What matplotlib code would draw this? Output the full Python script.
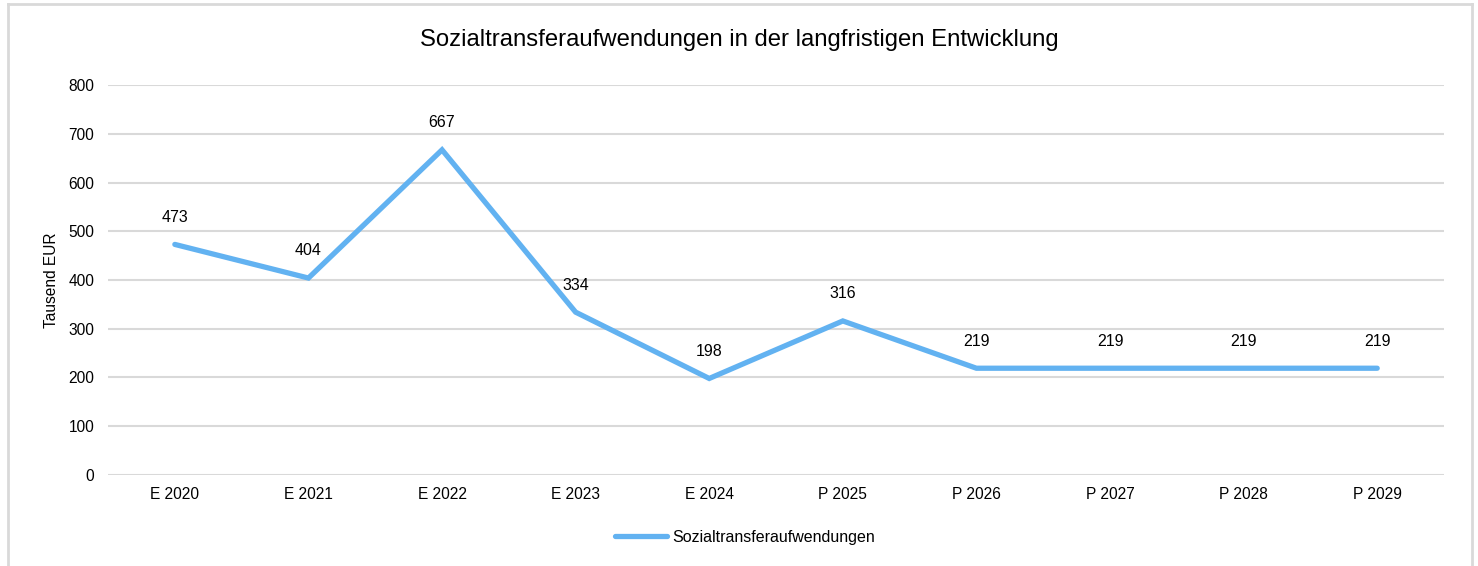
import matplotlib
matplotlib.use('Agg')
import matplotlib.pyplot as plt
from matplotlib.lines import Line2D

plt.rcParams['font.family'] = ['Liberation Sans', 'DejaVu Sans']

categories = ['E 2020', 'E 2021', 'E 2022', 'E 2023', 'E 2024',
              'P 2025', 'P 2026', 'P 2027', 'P 2028', 'P 2029']
values = [473, 404, 667, 334, 198, 316, 219, 219, 219, 219]
y_ticks = [0, 100, 200, 300, 400, 500, 600, 700, 800]

line_color = '#62B2F1'
grid_color = '#D9D9D9'

fig = plt.figure(figsize=(14.78, 5.66), dpi=100)
ax = fig.add_axes([0.0731, 0.1608, 0.9039, 0.689])

x = range(len(categories))
ax.plot(x, values, color=line_color, linewidth=3.8, solid_capstyle='round',
        solid_joinstyle='miter', label='Sozialtransferaufwendungen', zorder=3)

for i, v in zip(x, values):
    ax.annotate(str(v), (i, v), xytext=(0, 19.5), textcoords='offset points',
                ha='center', va='center', fontsize=11.5, color='#000000')

ax.set_xlim(-0.5, len(categories) - 0.5)
ax.set_ylim(0, 800)
ax.set_yticks(y_ticks)
ax.set_xticks(list(x))
ax.set_xticklabels(categories)
ax.tick_params(axis='both', length=0, labelsize=11.2, colors='#000000')
ax.tick_params(axis='x', pad=9)
ax.tick_params(axis='y', pad=10)
ax.grid(axis='y', color=grid_color, linewidth=1.5)
ax.set_axisbelow(True)
for s in ax.spines.values():
    s.set_visible(False)

ax.set_ylabel('Tausend EUR', fontsize=11.2)
ax.yaxis.set_label_coords(-0.037, 0.5)

fig.text(0.5, 0.929, 'Sozialtransferaufwendungen in der langfristigen Entwicklung',
         ha='center', va='center', fontsize=17.2)

handle = Line2D([0], [0], color=line_color, linewidth=3.8, solid_capstyle='round')
fig.legend([handle], ['Sozialtransferaufwendungen'], loc='center',
           bbox_to_anchor=(0.504, 0.051), frameon=False, fontsize=11.5,
           handlelength=3.3, handletextpad=0.3)

# outer chart border
border = dict(color='#D9D9D9', linewidth=2, transform=fig.transFigure)
fig.add_artist(Line2D([8/1478, 8/1478], [0, 1 - 4/566], **border))
fig.add_artist(Line2D([1472/1478, 1472/1478], [0, 1 - 4/566], **border))
fig.add_artist(Line2D([8/1478, 1472/1478], [1 - 4/566, 1 - 4/566], **border))

fig.savefig('out.png', dpi=100)
